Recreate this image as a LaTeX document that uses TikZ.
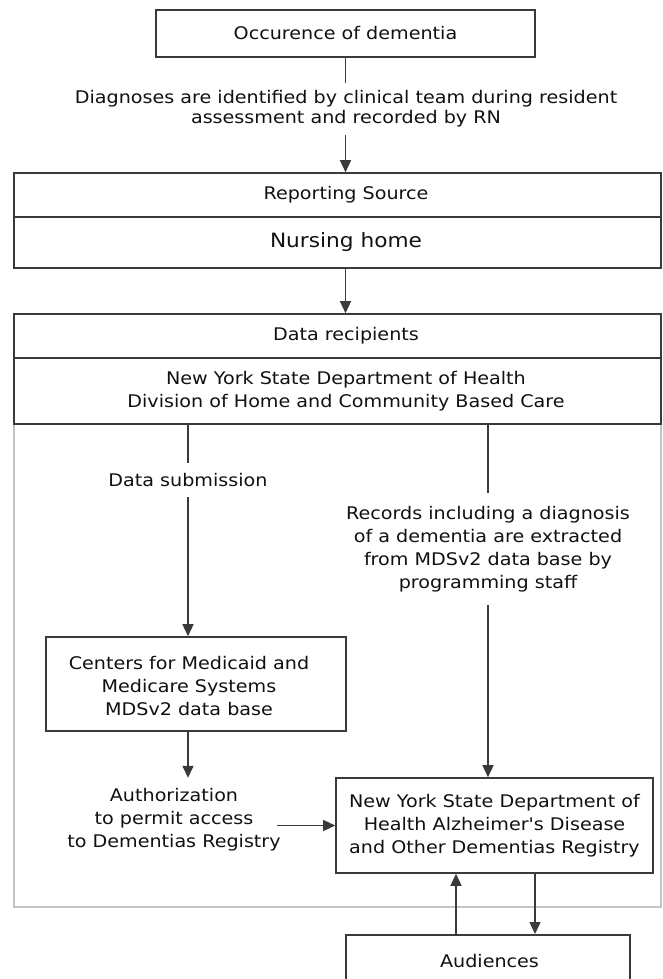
\documentclass[tikz,border=0pt]{standalone}
\usepackage{fontspec}
\setmainfont{DejaVu Sans}[FakeStretch=1.1, Ligatures=TeXOff]
\usetikzlibrary{arrows.meta}
\definecolor{ink}{HTML}{111111}
\definecolor{edge}{HTML}{3A3A3A}
\definecolor{frame}{HTML}{C4C4C4}
\begin{document}
\begin{tikzpicture}[x=1pt,y=-1pt,
  every node/.style={text=ink, font=\fontsize{17.4}{23}\selectfont},
  box/.style={draw=edge, line width=1.6pt, fill=white, inner sep=0pt},
  lbl/.style={align=center, inner sep=0pt},
  arr/.style={draw=edge, line width=1.4pt, -{Triangle[length=12pt,width=11pt]}},
  ln/.style={draw=edge, line width=1.4pt}]
\useasboundingbox (0,0) rectangle (662,979);
\clip (0,0) rectangle (662,979);
\fill[white] (0,0) rectangle (662,979);

% container
\node[draw=frame, line width=1.8pt, minimum width=647, minimum height=593, inner sep=0pt] (cont) at (337.5,610.5) {};

% top
\node[box, minimum width=379, minimum height=47] (occ) at (345.5,33.5) {Occurence of dementia};
\node[lbl, minimum height=52, font=\fontsize{17.4}{20}\selectfont] (diag) at (346,109) {Diagnoses are identified by clinical team during resident\\assessment and recorded by RN};

% reporting source
\node[box, minimum width=647, minimum height=95] (rep) at (337.5,220.5) {};
\draw[ln] (rep.west |- 0,217) -- (rep.east |- 0,217);
\node[lbl] (reps) at (346,195) {Reporting Source};
\node[lbl, font=\fontsize{19.7}{23}\selectfont] (nh) at (346,242) {Nursing home};

% data recipients
\node[box, minimum width=647, minimum height=110] (dr) at (337.5,369) {};
\draw[ln] (dr.west |- 0,358) -- (dr.east |- 0,358);
\node[lbl] (drt) at (346,336) {Data recipients};
\node[lbl] (nys) at (346,391) {New York State Department of Health\\Division of Home and Community Based Care};

% left column
\node[lbl, minimum height=34] (ds) at (188,480) {Data submission};
\node[box, minimum width=300, minimum height=94] (cms) at (196,684) {};
\node[lbl] (cmst) at (189,686) {Centers for Medicaid and\\Medicare Systems\\MDSv2 data base};
\node[lbl, minimum height=84] (auth) at (174,820) {Authorization\\to permit access\\to Dementias Registry};

% right column
\node[lbl, minimum height=112] (rec) at (488,549) {Records including a diagnosis\\of a dementia are extracted\\from MDSv2 data base by\\programming staff};
\node[box, minimum width=317, minimum height=95, align=center] (reg) at (494.5,825.5) {New York State Department of\\Health Alzheimer's Disease\\and Other Dementias Registry};

\node[box, minimum width=284, minimum height=90, anchor=north] (aud) at (488,934) {};
\node[lbl] (audt) at (489.5,961) {Audiences};

% connectors
\draw[ln] (occ.south) -- (occ.south |- diag.north);
\draw[arr] (occ.south |- diag.south) -- (occ.south |- rep.north);
\draw[arr] (occ.south |- rep.south) -- (occ.south |- dr.north);

\draw[ln] (ds.north |- dr.south) -- (ds.north);
\draw[arr] (ds.south) -- (ds.south |- cms.north);
\draw[arr] (ds.south |- cms.south) -- (ds.south |- auth.north);
\draw[arr] ([xshift=-4]auth.east |- reg.west) -- (reg.west);

\draw[ln] (rec.north |- dr.south) -- (rec.north);
\draw[arr] (rec.south) -- (rec.south |- reg.north);

\draw[arr] ([xshift=-32]aud.north) -- ([xshift=-32]aud.north |- reg.south);
\draw[arr] ([xshift=47]aud.north |- reg.south) -- ([xshift=47]aud.north);
\end{tikzpicture}
\end{document}
